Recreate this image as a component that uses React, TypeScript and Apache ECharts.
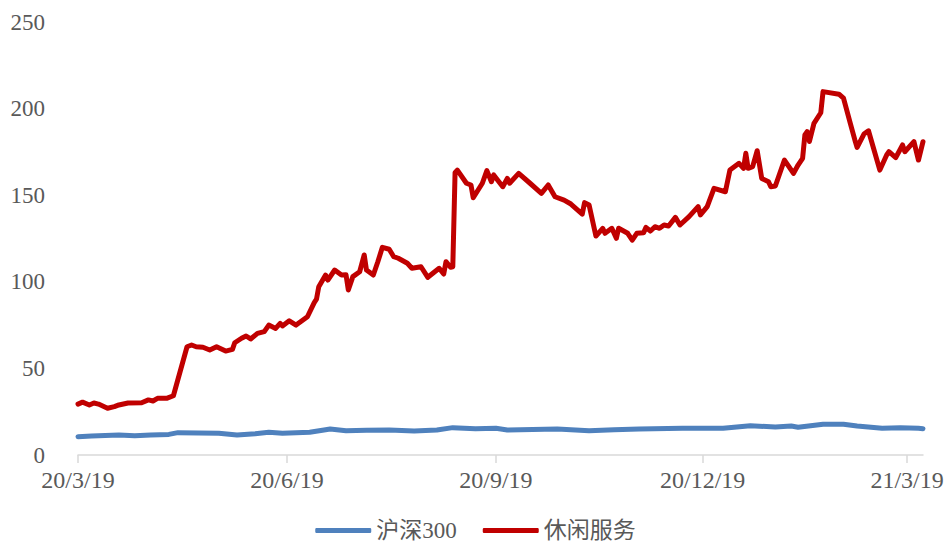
import React, { useEffect, useRef } from "react";
import * as echarts from "echarts";

const seriesNames = ["沪深300", "休闲服务"];

const tickDates = ["2020-03-19", "2020-06-19", "2020-09-19", "2020-12-19", "2021-03-19"];

const yTicks = [0, 50, 100, 150, 200, 250];

const hs300Dates = [
  "2020-03-19", "2020-03-25", "2020-04-06", "2020-04-13", "2020-04-20", "2020-04-28",
  "2020-05-02", "2020-05-20", "2020-05-28", "2020-06-05", "2020-06-11", "2020-06-17",
  "2020-06-29", "2020-07-06", "2020-07-08", "2020-07-15", "2020-07-24", "2020-08-03",
  "2020-08-14", "2020-08-24", "2020-08-31", "2020-09-10", "2020-09-19", "2020-09-24",
  "2020-10-16", "2020-10-30", "2020-11-10", "2020-11-21", "2020-12-10", "2020-12-28",
  "2021-01-09", "2021-01-20", "2021-01-27", "2021-01-30", "2021-02-10", "2021-02-19",
  "2021-02-25", "2021-03-08", "2021-03-16", "2021-03-24", "2021-03-26",
];
const hs300Values = [
  10.6, 11.0, 11.5, 11.1, 11.6, 11.9,
  12.9, 12.5, 11.5, 12.3, 13.1, 12.5,
  13.1, 14.6, 15.0, 14.0, 14.3, 14.4,
  13.9, 14.4, 15.8, 15.2, 15.4, 14.4,
  15.0, 14.0, 14.6, 15.0, 15.4, 15.4,
  16.9, 16.2, 16.7, 16.0, 17.7, 17.7,
  16.7, 15.4, 15.8, 15.4, 15.2,
];

const leisureDates = [
  "2020-03-19", "2020-03-21", "2020-03-24", "2020-03-26", "2020-03-28", "2020-04-01",
  "2020-04-04", "2020-04-06", "2020-04-10", "2020-04-16", "2020-04-19", "2020-04-21",
  "2020-04-23", "2020-04-27", "2020-04-30", "2020-05-06", "2020-05-08", "2020-05-10",
  "2020-05-13", "2020-05-16", "2020-05-19", "2020-05-23", "2020-05-26", "2020-05-27",
  "2020-05-30", "2020-06-01", "2020-06-03", "2020-06-06", "2020-06-09", "2020-06-11",
  "2020-06-14", "2020-06-16", "2020-06-17", "2020-06-20", "2020-06-23", "2020-06-28",
  "2020-07-01", "2020-07-02", "2020-07-03", "2020-07-06", "2020-07-07", "2020-07-10",
  "2020-07-13", "2020-07-15", "2020-07-16", "2020-07-18", "2020-07-21", "2020-07-23",
  "2020-07-24", "2020-07-27", "2020-07-29", "2020-07-31", "2020-08-03", "2020-08-05",
  "2020-08-07", "2020-08-11", "2020-08-13", "2020-08-17", "2020-08-20", "2020-08-25",
  "2020-08-27", "2020-08-28", "2020-08-30", "2020-08-31", "2020-09-01", "2020-09-02",
  "2020-09-06", "2020-09-08", "2020-09-09", "2020-09-13", "2020-09-15", "2020-09-17",
  "2020-09-18", "2020-09-22", "2020-09-24", "2020-09-25", "2020-09-29", "2020-10-04",
  "2020-10-09", "2020-10-12", "2020-10-15", "2020-10-19", "2020-10-22", "2020-10-27",
  "2020-10-28", "2020-10-30", "2020-11-02", "2020-11-05", "2020-11-06", "2020-11-09",
  "2020-11-11", "2020-11-12", "2020-11-16", "2020-11-18", "2020-11-20", "2020-11-23",
  "2020-11-24", "2020-11-26", "2020-11-28", "2020-11-30", "2020-12-02", "2020-12-04",
  "2020-12-07", "2020-12-09", "2020-12-13", "2020-12-17", "2020-12-18", "2020-12-21",
  "2020-12-24", "2020-12-29", "2020-12-31", "2021-01-04", "2021-01-06", "2021-01-07",
  "2021-01-08", "2021-01-10", "2021-01-12", "2021-01-14", "2021-01-17", "2021-01-18",
  "2021-01-20", "2021-01-24", "2021-01-28", "2021-01-30", "2021-02-01", "2021-02-02",
  "2021-02-03", "2021-02-04", "2021-02-06", "2021-02-09", "2021-02-10", "2021-02-17",
  "2021-02-19", "2021-02-22", "2021-02-24", "2021-02-25", "2021-02-28", "2021-03-02",
  "2021-03-07", "2021-03-10", "2021-03-11", "2021-03-14", "2021-03-17", "2021-03-18",
  "2021-03-22", "2021-03-24", "2021-03-26",
];
const leisureValues = [
  29.4, 30.5, 28.9, 30.0, 29.4, 27.0,
  27.9, 28.9, 30.0, 30.2, 31.8, 31.2,
  32.7, 32.7, 34.2, 62.5, 63.5, 62.5,
  62.2, 60.6, 62.5, 60.0, 61.0, 64.8,
  67.4, 68.7, 67.0, 70.2, 71.2, 75.0,
  73.1, 76.0, 74.5, 77.5, 75.0, 79.8,
  88.0, 90.0, 97.2, 103.9, 101.0, 106.8,
  103.9, 104.0, 95.3, 103.0, 105.8, 115.5,
  106.8, 103.9, 111.6, 119.9, 118.8, 114.5,
  113.6, 110.7, 107.8, 108.7, 102.6, 107.8,
  104.5, 111.6, 108.4, 108.7, 163.0, 164.5,
  156.9, 155.9, 148.5, 156.9, 164.2, 157.8,
  161.7, 154.9, 159.7, 156.9, 162.6, 156.9,
  151.1, 155.9, 149.1, 147.2, 144.9, 139.1,
  145.7, 144.3, 126.4, 130.9, 128.0, 130.9,
  125.1, 130.9, 128.0, 124.1, 128.0, 128.3,
  131.4, 129.3, 131.8, 130.9, 132.8, 132.2,
  137.2, 132.8, 137.6, 143.4, 138.6, 143.4,
  154.0, 152.0, 164.5, 168.4, 165.5, 174.2,
  165.5, 166.5, 175.7, 159.7, 157.8, 154.9,
  155.3, 170.3, 162.6, 167.4, 171.3, 184.8,
  186.7, 181.0, 191.5, 197.6, 209.8, 208.3,
  206.0, 191.5, 181.9, 177.6, 185.3, 187.2,
  164.5, 173.2, 175.1, 171.7, 179.0, 175.1,
  180.9, 170.3, 180.9,
];

const axisStart = "2020-03-19";
const axisEnd = "2021-03-26";

const DAY = 86400000;
const toDay = (s: string) => {
  const [y, m, d] = s.split("-").map(Number);
  return Math.round(Date.UTC(y, m - 1, d) / DAY);
};

const fmtDay = (v: number) => {
  const d = new Date(Math.round(v) * DAY);
  return `${d.getUTCFullYear() % 100}/${d.getUTCMonth() + 1}/${d.getUTCDate()}`;
};

export default function App() {
  const ref = useRef<HTMLDivElement>(null);

  useEffect(() => {
    if (!ref.current) return;
    const chart = echarts.init(ref.current, undefined, { renderer: "svg" });
    const ticks = tickDates.map(toDay);
    const labelFont = "'Liberation Serif', 'Times New Roman', serif";
    chart.setOption({
      animation: false,
      backgroundColor: "#ffffff",
      grid: { left: 78, right: 28, top: 22, bottom: 87, containLabel: false },
      legend: {
        top: 519,
        left: "center",
        padding: [0, 5],
        icon: "roundRect",
        itemWidth: 56,
        itemHeight: 5,
        itemGap: 26,
        textStyle: {
          fontSize: 23,
          lineHeight: 22,
          color: "#595959",
          fontFamily: "'Liberation Serif', 'Noto Sans CJK SC', serif",
        },
        data: seriesNames,
      },
      xAxis: {
        type: "value",
        min: toDay(axisStart),
        max: toDay(axisEnd),
        axisLine: { show: true, lineStyle: { color: "#D9D9D9", width: 1.5 } },
        axisTick: {
          show: true,
          customValues: ticks,
          length: 8,
          lineStyle: { color: "#D9D9D9", width: 1.5 },
        },
        axisLabel: {
          customValues: ticks,
          formatter: (v: number) => fmtDay(v),
          fontSize: 24,
          color: "#595959",
          fontFamily: labelFont,
          margin: 13,
        },
        splitLine: { show: false },
      },
      yAxis: {
        type: "value",
        min: yTicks[0],
        max: yTicks[yTicks.length - 1],
        interval: 50,
        axisLine: { show: false },
        axisTick: { show: false },
        splitLine: { show: false },
        axisLabel: {
          fontSize: 23,
          color: "#595959",
          fontFamily: labelFont,
          margin: 33,
        },
      },
      series: [
        {
          name: seriesNames[0],
          type: "line",
          showSymbol: false,
          symbol: "none",
          color: "#4F81BD",
          lineStyle: { color: "#4F81BD", width: 5, cap: "round", join: "round" },
          data: hs300Dates.map((d, i) => [toDay(d), hs300Values[i]]),
          z: 2,
        },
        {
          name: seriesNames[1],
          type: "line",
          showSymbol: false,
          symbol: "none",
          color: "#C00000",
          lineStyle: { color: "#C00000", width: 5, cap: "round", join: "round" },
          data: leisureDates.map((d, i) => [toDay(d), leisureValues[i]]),
          z: 3,
        },
      ],
    });
    return () => chart.dispose();
  }, []);

  return (
    <div
      ref={ref}
      style={{ position: "fixed", left: 0, top: 0, width: 951, height: 542, background: "#fff" }}
    />
  );
}
